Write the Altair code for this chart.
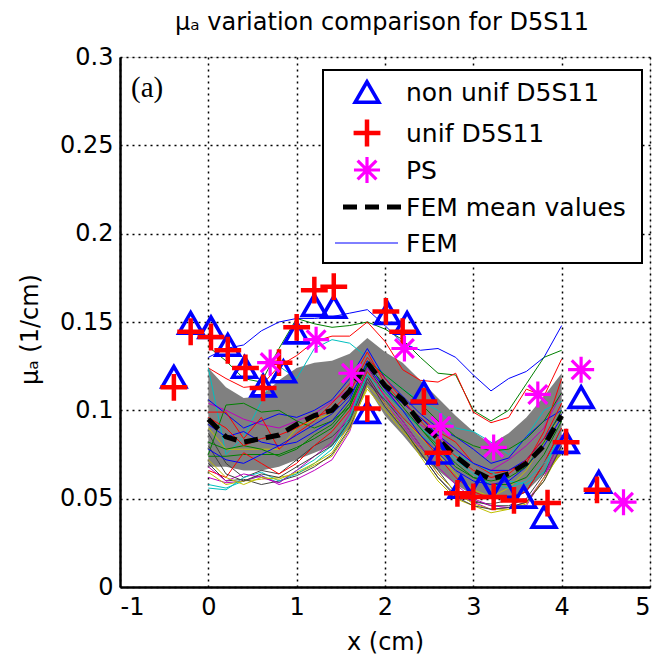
import altair as alt
import pandas as pd

FONT = "DejaVu Sans"

# ---------------- data ----------------
fem_x = [0.0, 0.2, 0.4, 0.6, 0.8, 1.0, 1.2, 1.4, 1.6, 1.8, 2.0,
         2.2, 2.4, 2.6, 2.8, 3.0, 3.2, 3.4, 3.6, 3.8, 4.0]

mean_y = [0.095, 0.085, 0.082, 0.084, 0.086, 0.092, 0.097, 0.100, 0.111, 0.127, 0.114,
          0.106, 0.093, 0.084, 0.074, 0.066, 0.061, 0.064, 0.070, 0.080, 0.097]
band_hi = [0.124, 0.113, 0.107, 0.108, 0.117, 0.124, 0.127, 0.128, 0.132, 0.141, 0.133,
           0.127, 0.117, 0.107, 0.097, 0.088, 0.081, 0.087, 0.096, 0.108, 0.121]
band_lo = [0.068, 0.068, 0.066, 0.066, 0.068, 0.072, 0.076, 0.080, 0.090, 0.113, 0.097,
           0.086, 0.074, 0.066, 0.058, 0.052, 0.050, 0.050, 0.054, 0.064, 0.075]

B, G, R, C, M, Y, K = "#0000ff", "#008000", "#ff0000", "#00bfbf", "#bf00bf", "#bfbf00", "#404040"
fem_lines = [
    (B, [0.130, 0.135, 0.137, 0.145, 0.150, 0.152, 0.152, 0.153, 0.155, 0.157, 0.148, 0.138, 0.134, 0.135, 0.130, 0.120, 0.111, 0.118, 0.122, 0.130, 0.148]),
    (G, [0.136, 0.128, 0.118, 0.116, 0.135, 0.152, 0.149, 0.147, 0.148, 0.150, 0.146, 0.140, 0.130, 0.121, 0.120, 0.100, 0.094, 0.100, 0.115, 0.130, 0.134]),
    (R, [0.124, 0.118, 0.113, 0.114, 0.125, 0.131, 0.139, 0.142, 0.142, 0.150, 0.139, 0.123, 0.117, 0.116, 0.121, 0.099, 0.093, 0.096, 0.112, 0.108, 0.129]),
    (C, [0.124, 0.075, 0.085, 0.105, 0.125, 0.118, 0.135, 0.140, 0.138, 0.130, 0.120, 0.112, 0.105, 0.100, 0.090, 0.088, 0.082, 0.075, 0.085, 0.100, 0.105]),
    (M, [0.104, 0.100, 0.095, 0.092, 0.090, 0.094, 0.098, 0.105, 0.112, 0.124, 0.113, 0.100, 0.092, 0.085, 0.078, 0.070, 0.066, 0.072, 0.080, 0.090, 0.110]),
    (Y, [0.090, 0.078, 0.078, 0.078, 0.078, 0.090, 0.095, 0.098, 0.108, 0.122, 0.108, 0.096, 0.085, 0.075, 0.064, 0.055, 0.051, 0.056, 0.066, 0.082, 0.098]),
    (K, [0.087, 0.070, 0.062, 0.066, 0.064, 0.072, 0.080, 0.085, 0.095, 0.120, 0.104, 0.090, 0.076, 0.062, 0.052, 0.048, 0.047, 0.049, 0.054, 0.070, 0.090]),
    (B, [0.106, 0.098, 0.090, 0.094, 0.098, 0.096, 0.100, 0.106, 0.118, 0.135, 0.118, 0.108, 0.098, 0.090, 0.085, 0.078, 0.070, 0.073, 0.085, 0.094, 0.100]),
    (G, [0.075, 0.103, 0.104, 0.099, 0.100, 0.094, 0.090, 0.094, 0.102, 0.128, 0.120, 0.112, 0.104, 0.094, 0.085, 0.080, 0.077, 0.078, 0.084, 0.094, 0.110]),
    (R, [0.099, 0.099, 0.084, 0.096, 0.078, 0.087, 0.094, 0.104, 0.115, 0.133, 0.115, 0.104, 0.096, 0.088, 0.082, 0.070, 0.064, 0.066, 0.070, 0.088, 0.118]),
    (C, [0.058, 0.056, 0.060, 0.063, 0.059, 0.066, 0.072, 0.080, 0.096, 0.122, 0.106, 0.096, 0.086, 0.080, 0.075, 0.070, 0.065, 0.060, 0.058, 0.065, 0.090]),
    (M, [0.062, 0.059, 0.060, 0.063, 0.058, 0.061, 0.066, 0.072, 0.088, 0.118, 0.104, 0.092, 0.078, 0.064, 0.054, 0.048, 0.044, 0.045, 0.048, 0.062, 0.080]),
    (Y, [0.065, 0.058, 0.060, 0.061, 0.062, 0.064, 0.069, 0.074, 0.089, 0.114, 0.104, 0.090, 0.074, 0.060, 0.050, 0.046, 0.042, 0.044, 0.048, 0.060, 0.078]),
    (K, [0.070, 0.060, 0.061, 0.058, 0.060, 0.063, 0.068, 0.075, 0.090, 0.116, 0.106, 0.094, 0.080, 0.066, 0.053, 0.049, 0.046, 0.046, 0.050, 0.064, 0.084]),
    (B, [0.092, 0.085, 0.088, 0.082, 0.080, 0.086, 0.092, 0.098, 0.108, 0.125, 0.112, 0.104, 0.096, 0.086, 0.078, 0.070, 0.066, 0.066, 0.072, 0.084, 0.098]),
    (G, [0.074, 0.074, 0.075, 0.075, 0.075, 0.079, 0.084, 0.090, 0.102, 0.124, 0.110, 0.100, 0.090, 0.080, 0.070, 0.062, 0.058, 0.058, 0.062, 0.075, 0.094]),
    (R, [0.066, 0.062, 0.076, 0.070, 0.064, 0.070, 0.080, 0.088, 0.100, 0.122, 0.108, 0.096, 0.086, 0.074, 0.062, 0.054, 0.050, 0.050, 0.054, 0.070, 0.090]),
    (C, [0.056, 0.055, 0.062, 0.065, 0.060, 0.064, 0.070, 0.078, 0.094, 0.120, 0.110, 0.100, 0.090, 0.082, 0.072, 0.064, 0.058, 0.056, 0.060, 0.070, 0.084]),
    (M, [0.068, 0.060, 0.064, 0.062, 0.059, 0.066, 0.074, 0.082, 0.098, 0.124, 0.108, 0.094, 0.080, 0.068, 0.058, 0.050, 0.046, 0.045, 0.046, 0.062, 0.086]),
    (Y, [0.072, 0.062, 0.058, 0.062, 0.061, 0.065, 0.070, 0.076, 0.092, 0.112, 0.100, 0.088, 0.078, 0.064, 0.054, 0.047, 0.044, 0.044, 0.047, 0.062, 0.076]),
    (K, [0.080, 0.064, 0.060, 0.064, 0.062, 0.068, 0.074, 0.080, 0.094, 0.118, 0.102, 0.090, 0.076, 0.062, 0.051, 0.046, 0.044, 0.045, 0.048, 0.060, 0.080]),
    (B, [0.078, 0.072, 0.070, 0.075, 0.080, 0.082, 0.088, 0.094, 0.106, 0.128, 0.112, 0.100, 0.086, 0.076, 0.066, 0.060, 0.058, 0.060, 0.068, 0.080, 0.096]),
    (G, [0.082, 0.078, 0.080, 0.078, 0.074, 0.078, 0.086, 0.092, 0.104, 0.126, 0.114, 0.102, 0.090, 0.078, 0.068, 0.062, 0.060, 0.062, 0.068, 0.082, 0.100]),
    (R, [0.096, 0.090, 0.080, 0.084, 0.086, 0.090, 0.096, 0.100, 0.110, 0.130, 0.118, 0.106, 0.094, 0.084, 0.074, 0.066, 0.062, 0.064, 0.072, 0.084, 0.104]),
]

tri_x = [-0.39, -0.2, 0.03, 0.22, 0.41, 0.62, 0.85, 1.0, 1.2, 1.42, 1.8, 2.03, 2.25,
         2.44, 2.62, 2.86, 3.08, 3.35, 3.57, 3.8, 4.05, 4.22, 4.42]
tri_y = [0.119, 0.1495, 0.147, 0.137, 0.1245, 0.114, 0.122, 0.144, 0.1595, 0.1585, 0.099, 0.155, 0.1495,
         0.110, 0.076, 0.0566, 0.0566, 0.0566, 0.051, 0.0397, 0.082, 0.1075, 0.0595]

plus_x = [-0.39, -0.2, 0.03, 0.22, 0.42, 0.62, 0.8, 1.0, 1.2, 1.42, 1.8, 2.01, 2.2,
          2.44, 2.6, 2.82, 3.0, 3.23, 3.46, 3.84, 4.05, 4.4]
plus_y = [0.113, 0.1445, 0.1415, 0.134, 0.124, 0.1127, 0.127, 0.147, 0.168, 0.170, 0.101, 0.156, 0.1445,
          0.105, 0.076, 0.053, 0.051, 0.051, 0.049, 0.0475, 0.082, 0.055]

ast_x = [0.7, 1.22, 1.62, 2.22, 2.63, 3.23, 3.73, 4.22, 4.7]
ast_y = [0.127, 0.140, 0.121, 0.135, 0.091, 0.079, 0.109, 0.123, 0.048]

legend_labels = ["non unif D5S11", "unif D5S11", "PS", "FEM mean values", "FEM"]
title_text = "μₐ variation comparison for D5S11"

PLUS = "M-1,0L1,0M0,-1L0,1"
STAR = "M-1,0L1,0M0,-1L0,1M-0.72,-0.72L0.72,0.72M-0.72,0.72L0.72,-0.72"

# ---------------- frames ----------------
band_df = pd.DataFrame({"x": fem_x, "lo": band_lo, "hi": band_hi, "mean": mean_y})
rows = []
for i, (col, vals) in enumerate(fem_lines):
    for xv, yv in zip(fem_x, vals):
        rows.append({"run": i, "col": col, "x": xv, "y": yv})
fem_df = pd.DataFrame(rows)
tri_df = pd.DataFrame({"x": tri_x, "y": tri_y})
plus_df = pd.DataFrame({"x": plus_x, "y": plus_y})
ast_df = pd.DataFrame({"x": ast_x, "y": ast_y})

# ---------------- scales / axes ----------------
xaxis = alt.Axis(values=[-1, 0, 1, 2, 3, 4, 5], format="d",
                 labelExpr="replace(datum.label, '\u2212', '-')", title="x (cm)",
                 grid=True, ticks=False, labelFont=FONT, labelFontSize=24, labelColor="black",
                 labelPadding=8, titleFont=FONT, titleFontSize=24, titleFontWeight="normal",
                 titleColor="black", titleX=265, titleY=55, titleBaseline="middle",
                 domainColor="black", domainWidth=2.5,
                 gridColor="black", gridDash=[2, 4], gridWidth=1.5, gridOpacity=1)
yaxis = alt.Axis(values=[0, 0.05, 0.1, 0.15, 0.2, 0.25, 0.3], format=".2~f", title="μₐ (1/cm)",
                 grid=True, ticks=False, labelFont=FONT, labelFontSize=24, labelColor="black",
                 labelPadding=7, titleFont=FONT, titleFontSize=24, titleFontWeight="normal",
                 titleColor="black", titleX=-90, titleY=272, titleAngle=-90,
                 titleAlign="center", titleBaseline="middle",
                 domainColor="black", domainWidth=2.5,
                 gridColor="black", gridDash=[2, 4], gridWidth=1.5, gridOpacity=1)
xs = alt.Scale(domain=[-1, 5], nice=False, zero=False)
ys = alt.Scale(domain=[0, 0.3], nice=False, zero=False)

X = alt.X("x:Q", scale=xs, axis=xaxis)

band = alt.Chart(band_df).mark_area(color="#808080", opacity=1).encode(
    x=X, y=alt.Y("lo:Q", scale=ys, axis=yaxis), y2="hi:Q")

fem = alt.Chart(fem_df).mark_line(strokeWidth=1).encode(
    x=X, y=alt.Y("y:Q", scale=ys, axis=yaxis),
    color=alt.Color("col:N", scale=None), detail="run:N")

mean = alt.Chart(band_df).mark_line(color="black", strokeWidth=5, strokeDash=[14, 8]).encode(
    x=X, y=alt.Y("mean:Q", scale=ys, axis=yaxis))

TRI_W, PLUS_W, STAR_W = 3.6, 4.5, 3.2
tri = alt.Chart(tri_df).mark_point(shape="triangle-up", filled=False, color=B,
                                   strokeWidth=TRI_W, size=560, opacity=1).encode(
    x=X, y=alt.Y("y:Q", scale=ys, axis=yaxis))
plus = alt.Chart(plus_df).mark_point(shape=PLUS, filled=False, color=R,
                                     strokeWidth=PLUS_W, size=720, opacity=1).encode(
    x=X, y=alt.Y("y:Q", scale=ys, axis=yaxis))
ast = alt.Chart(ast_df).mark_point(shape=STAR, filled=False, color="#ff00ff",
                                   strokeWidth=STAR_W, size=680, opacity=1).encode(
    x=X, y=alt.Y("y:Q", scale=ys, axis=yaxis))

# ---------------- legend (drawn inside plot, top-right) ----------------
def lab_df(i):
    return pd.DataFrame({"label": [legend_labels[i]]})

row_y = [35, 76, 113, 150, 186]
leg_box = alt.Chart(lab_df(0)).mark_rect(fill="white", stroke="black", strokeWidth=2).encode(
    x=alt.value(203), x2=alt.value(522), y=alt.value(13), y2=alt.value(206))
leg_items = [leg_box]
leg_items.append(alt.Chart(lab_df(0)).mark_point(shape="triangle-up", filled=False, color=B,
                 strokeWidth=TRI_W, size=560, opacity=1).encode(x=alt.value(247), y=alt.value(row_y[0])))
leg_items.append(alt.Chart(lab_df(1)).mark_point(shape=PLUS, filled=False, color=R,
                 strokeWidth=PLUS_W, size=720, opacity=1).encode(x=alt.value(247), y=alt.value(row_y[1])))
leg_items.append(alt.Chart(lab_df(2)).mark_point(shape=STAR, filled=False, color="#ff00ff",
                 strokeWidth=STAR_W, size=680, opacity=1).encode(x=alt.value(247), y=alt.value(row_y[2])))
leg_items.append(alt.Chart(lab_df(3)).mark_rule(color="black", strokeWidth=5, strokeDash=[14, 8]).encode(
    x=alt.value(223), x2=alt.value(282), y=alt.value(row_y[3])))
leg_items.append(alt.Chart(lab_df(4)).mark_rule(color=B, strokeWidth=1).encode(
    x=alt.value(215), x2=alt.value(278), y=alt.value(row_y[4])))
for i in range(5):
    leg_items.append(alt.Chart(lab_df(i)).mark_text(
        font=FONT, fontSize=25, align="left", baseline="middle", color="black").encode(
        text="label:N", x=alt.value(286), y=alt.value(row_y[i] + 1)))

panel = alt.Chart(pd.DataFrame({"t": ["(a)"]})).mark_text(
    font="Liberation Serif", fontSize=29, align="left", baseline="alphabetic", color="black").encode(
    text="t:N", x=alt.value(11), y=alt.value(40))

title = alt.Chart(pd.DataFrame({"t": [title_text]})).mark_text(
    font=FONT, fontSize=24, align="center", baseline="alphabetic", color="black").encode(
    text="t:N", x=alt.value(262), y=alt.value(-27))

chart = alt.layer(band, fem, mean, tri, plus, ast, *leg_items, panel, title).properties(
    width=530, height=530,
    autosize=alt.AutoSizeParams(type="none"),
    padding={"left": 120, "top": 57, "right": 8, "bottom": 78},
).configure_view(stroke="black", strokeWidth=2.5).configure(background="white")

chart.save("out.html", embed_options={"renderer": "svg", "actions": False})
